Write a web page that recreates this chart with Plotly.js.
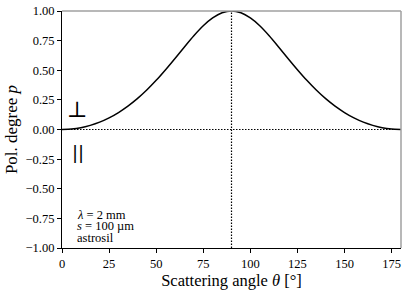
<!DOCTYPE html>
<html>
<head>
<meta charset="utf-8">
<script src="https://cdn.plot.ly/plotly-3.0.1.min.js"></script>
<style>
html,body{margin:0;padding:0;background:#fff;}
#chart{width:411px;height:291px;}
</style>
</head>
<body>
<div id="chart"></div>
<script>
// Scattering angle (degrees) and polarization degree
const angles = [0,5,10,15,20,25,30,35,40,45,50,55,60,65,70,75,80,85,90,95,100,105,110,115,120,125,130,135,140,145,150,155,160,165,170,175,180];
const polDegree = [0.000,0.004,0.015,0.035,0.062,0.098,0.143,0.197,0.260,0.333,0.415,0.505,0.600,0.697,0.791,0.875,0.941,0.985,1.000,0.985,0.941,0.875,0.791,0.697,0.600,0.505,0.415,0.333,0.260,0.197,0.143,0.098,0.062,0.035,0.015,0.004,0.000];
const xTicks = [0,25,50,75,100,125,150,175];
const yTicks = [-1.00,-0.75,-0.50,-0.25,0.00,0.25,0.50,0.75,1.00];
const refAngle = 90;
const refPol = 0;
const infoLines = ['<i>λ</i> = 2 mm','<i>s</i> = 100 µm','astrosil'];

const serif = 'Liberation Serif, Times New Roman, DejaVu Serif, serif';

const traces = [{
  x: angles, y: polDegree, type: 'scatter', mode: 'lines',
  line: {color: '#000', width: 1.5, shape: 'spline', smoothing: 0.6},
  hoverinfo: 'skip', showlegend: false
}];

const annotations = [
  {x: 8.3, y: 0.17, xref: 'x', yref: 'y', text: '⊥', showarrow: false,
   font: {family: serif, size: 22, color: '#000'}},
  {x: 8.3, y: -0.19, xref: 'x', yref: 'y', text: '||', showarrow: false, opacity: 0.99,
   font: {family: 'DejaVu Sans, sans-serif', size: 18, color: '#000'}}
];
const infoY = [-0.72, -0.817, -0.912];
infoLines.forEach((t, i) => annotations.push({
  x: 7.5, y: infoY[i], xref: 'x', yref: 'y', xanchor: 'left', yanchor: 'middle',
  text: t, showarrow: false, borderpad: 0, font: {family: serif, size: 12.5, color: '#000'}
}));

const layout = {
  width: 411, height: 291,
  margin: {l: 62, r: 10, t: 11, b: 43},
  paper_bgcolor: '#fff', plot_bgcolor: '#fff',
  font: {family: serif, size: 12, color: '#000'},
  xaxis: {
    range: [0, 180], tickvals: xTicks, ticktext: xTicks.map(String),
    ticks: 'outside', ticklen: 4, tickwidth: 1, tickcolor: '#000',
    showline: true, linecolor: '#000', linewidth: 1, mirror: false,
    showgrid: false, zeroline: false,
    tickfont: {family: serif, size: 12.5, color: '#000'},
    title: {text: 'Scattering angle <i>θ</i> [°]', font: {family: serif, size: 16.5, color: '#000'}, standoff: 3}
  },
  yaxis: {
    range: [-1, 1], tickvals: yTicks, ticktext: yTicks.map(v => (v < 0 ? '−' : '') + Math.abs(v).toFixed(2)),
    ticks: 'outside', ticklen: 4, tickwidth: 1, tickcolor: '#000',
    showline: true, linecolor: '#000', linewidth: 1, mirror: false,
    showgrid: false, zeroline: false,
    tickfont: {family: serif, size: 12.5, color: '#000'},
    title: {text: 'Pol. degree <i>p</i>', font: {family: serif, size: 17, color: '#000'}, standoff: 3}
  },
  shapes: [
    {type: 'line', xref: 'paper', yref: 'paper', x0: 0, x1: 1, y0: 1, y1: 1, line: {color: '#a0a0a0', width: 1.5}},
    {type: 'line', xref: 'paper', yref: 'paper', x0: 1, x1: 1, y0: 0, y1: 1, line: {color: '#a0a0a0', width: 1.5}},
    {type: 'line', xref: 'x', yref: 'y', x0: 0, x1: 180, y0: refPol, y1: refPol, line: {color: '#000', width: 1.2, dash: '1.5px,1.5px'}, layer: 'below'},
    {type: 'line', xref: 'x', yref: 'paper', x0: refAngle, x1: refAngle, y0: 0, y1: 1, line: {color: '#000', width: 1.2, dash: '1.5px,1.5px'}, layer: 'below'}
  ],
  annotations: annotations
};

Plotly.newPlot('chart', traces, layout, {displayModeBar: false, staticPlot: true});
</script>
</body>
</html>
